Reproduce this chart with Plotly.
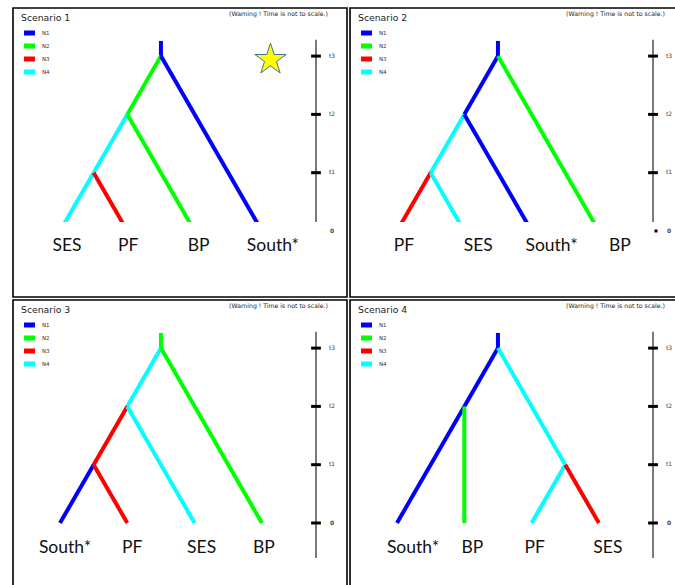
import plotly.graph_objects as go

W, H = 675, 585

# ---------------- data ----------------
POPULATIONS = ["N1", "N2", "N3", "N4"]
TIME_TICK_LABELS = ["0", "t1", "t2", "t3"]
TIME_TICK_VALUES = [0, 1, 2, 3]
ROOT_STEM_TOP = 3.26
TIME_AXIS_TOP = 3.28
TIME_AXIS_BOTTOM = -0.6

SCENARIO_TITLES = ["Scenario 1", "Scenario 2", "Scenario 3", "Scenario 4"]
WARNING_TEXT = "(Warning ! Time is not to scale.)"
BEST_SCENARIO = 1

# leaves (left to right, slot index = position)
S1_LEAVES = ["SES", "PF", "BP", "South*"]
S2_LEAVES = ["PF", "SES", "South*", "BP"]
S3_LEAVES = ["South*", "PF", "SES", "BP"]
S4_LEAVES = ["South*", "BP", "PF", "SES"]

# internal nodes: x in leaf-slot units, time level
S1_NODE_NAMES = ["root", "n2", "n1"]
S1_NODE_X = [1.5, 1.0, 0.5]
S1_NODE_T = [3, 2, 1]
S2_NODE_NAMES = ["root", "n2", "n1"]
S2_NODE_X = [1.5, 1.0, 0.5]
S2_NODE_T = [3, 2, 1]
S3_NODE_NAMES = ["root", "n2", "n1"]
S3_NODE_X = [1.5, 1.0, 0.5]
S3_NODE_T = [3, 2, 1]
S4_NODE_NAMES = ["root", "n2", "n1"]
S4_NODE_X = [1.5, 1.0, 2.5]
S4_NODE_T = [3, 2, 1]

# branches: from, to, population
S1_FROM = ["root", "root", "n2", "n2", "n1", "n1"]
S1_TO = ["n2", "South*", "n1", "BP", "SES", "PF"]
S1_POP = ["N2", "N1", "N4", "N2", "N4", "N3"]
S1_STEM = "N1"

S2_FROM = ["root", "root", "n2", "n2", "n1", "n1"]
S2_TO = ["n2", "BP", "n1", "South*", "PF", "SES"]
S2_POP = ["N1", "N2", "N4", "N1", "N3", "N4"]
S2_STEM = "N1"

S3_FROM = ["root", "root", "n2", "n2", "n1", "n1"]
S3_TO = ["n2", "BP", "n1", "SES", "South*", "PF"]
S3_POP = ["N4", "N2", "N3", "N4", "N1", "N3"]
S3_STEM = "N2"

S4_FROM = ["root", "root", "n2", "n2", "n1", "n1"]
S4_TO = ["n2", "n1", "South*", "BP", "PF", "SES"]
S4_POP = ["N1", "N4", "N1", "N2", "N4", "N3"]
S4_STEM = "N1"

SCENARIOS = [
    (S1_LEAVES, S1_NODE_NAMES, S1_NODE_X, S1_NODE_T, S1_FROM, S1_TO, S1_POP, S1_STEM),
    (S2_LEAVES, S2_NODE_NAMES, S2_NODE_X, S2_NODE_T, S2_FROM, S2_TO, S2_POP, S2_STEM),
    (S3_LEAVES, S3_NODE_NAMES, S3_NODE_X, S3_NODE_T, S3_FROM, S3_TO, S3_POP, S3_STEM),
    (S4_LEAVES, S4_NODE_NAMES, S4_NODE_X, S4_NODE_T, S4_FROM, S4_TO, S4_POP, S4_STEM),
]

# ---------------- styles / layout ----------------
POP_COLORS = {"N1": "#0000FF", "N2": "#00FF00", "N3": "#FF0000", "N4": "#00FFFF"}
PX_PER_SLOT = 67.3
PX_PER_TIME = 58.3
AXIS_OFFSET_PX = 256  # time-scale line position from first leaf

PANELS = [
    dict(box=(13, 8, 347, 297), clip_bottom=222, leaf0=60, time0=231, label_py=247,
         nudges=[7, 1, 4, 11]),
    dict(box=(350, 8, 700, 297), clip_bottom=222, leaf0=397, time0=231, label_py=247,
         nudges=[7, 14, 20, 21]),
    dict(box=(13, 300, 347, 620), clip_bottom=585, leaf0=60, time0=523, label_py=549,
         nudges=[5, 5, 7, 2]),
    dict(box=(350, 300, 700, 620), clip_bottom=585, leaf0=397, time0=523, label_py=549,
         nudges=[16, 8, 3, 9]),
]

fig = go.Figure()
shapes = []
annotations = []


def fx(px):
    return px / W


def fy(py):
    return 1 - py / H


def trace(**kw):
    kw.setdefault("showlegend", False)
    kw.setdefault("hoverinfo", "skip")
    fig.add_trace(go.Scatter(**kw))


for i, (panel, sc) in enumerate(zip(PANELS, SCENARIOS)):
    leaves, nnames, nx, nt, bfrom, bto, bpop, stem = sc
    l, t, r, b = panel["box"]
    rr = min(r, W)
    bb = min(b, H)
    bottom = min(panel["clip_bottom"], H)
    n = i + 1
    xa, ya, yf = f"x{n}", f"y{n}", f"y{n + 4}"
    leaf0, time0 = panel["leaf0"], panel["time0"]
    fig.layout[f"xaxis{n}"] = dict(
        domain=[fx(l), fx(rr)],
        range=[(l - leaf0) / PX_PER_SLOT, (rr - leaf0) / PX_PER_SLOT],
        visible=False, fixedrange=True, anchor=ya,
    )
    # clipped axis (tree + time scale)
    fig.layout[f"yaxis{n}"] = dict(
        domain=[fy(bottom), fy(t)],
        range=[(time0 - bottom) / PX_PER_TIME, (time0 - t) / PX_PER_TIME],
        visible=False, fixedrange=True, anchor=xa,
    )
    # full-panel axis (labels)
    fig.layout[f"yaxis{n + 4}"] = dict(
        domain=[fy(bb), fy(t)],
        range=[(time0 - bb) / PX_PER_TIME, (time0 - t) / PX_PER_TIME],
        visible=False, fixedrange=True, anchor=xa,
    )

    pos = {name: (k, 0) for k, name in enumerate(leaves)}
    for name, x, tt in zip(nnames, nx, nt):
        pos[name] = (x, tt)

    # stem above root
    rx, rt = pos["root"]
    trace(x=[rx, rx], y=[rt, ROOT_STEM_TOP], mode="lines",
          line=dict(color=POP_COLORS[stem], width=4), xaxis=xa, yaxis=ya)
    for f, to, p in zip(bfrom, bto, bpop):
        x1, y1 = pos[f]
        x2, y2 = pos[to]
        trace(x=[x1, x2], y=[y1, y2], mode="lines",
              line=dict(color=POP_COLORS[p], width=4), xaxis=xa, yaxis=ya)

    # leaf labels
    label_y = (time0 - panel["label_py"]) / PX_PER_TIME
    trace(x=[k + d / PX_PER_SLOT for k, d in zip(range(len(leaves)), panel["nudges"])],
          y=[label_y] * len(leaves), mode="text", text=leaves,
          textposition="middle center",
          textfont=dict(family="Lato", size=17.5, color="#111111"),
          cliponaxis=False, xaxis=xa, yaxis=yf)

    # time scale
    axis_x = AXIS_OFFSET_PX / PX_PER_SLOT
    trace(x=[axis_x, axis_x], y=[TIME_AXIS_TOP, TIME_AXIS_BOTTOM],
          mode="lines", line=dict(color="#333333", width=1.3), xaxis=xa, yaxis=ya)
    trace(x=[axis_x] * len(TIME_TICK_VALUES), y=TIME_TICK_VALUES, mode="markers",
          marker=dict(symbol="line-ew", size=7, line=dict(width=3, color="#000000")),
          xaxis=xa, yaxis=ya)
    tick_text = [f"<b>{s}</b>" if s == "0" else s for s in TIME_TICK_LABELS]
    trace(x=[axis_x + 16 / PX_PER_SLOT] * len(TIME_TICK_VALUES),
          y=TIME_TICK_VALUES, mode="text", text=tick_text,
          textposition="middle center",
          textfont=dict(family="DejaVu Sans", size=6, color="#444444"),
          cliponaxis=False, xaxis=xa, yaxis=yf)
    if n == 2:
        trace(x=[axis_x + 3 / PX_PER_SLOT], y=[0], mode="markers",
              marker=dict(symbol="square", size=3, color="#000000"),
              cliponaxis=False, xaxis=xa, yaxis=yf)

    # best scenario star
    if n == BEST_SCENARIO:
        trace(x=[(270.5 - leaf0) / PX_PER_SLOT],
              y=[(time0 - (t + 51.6)) / PX_PER_TIME],
              mode="markers",
              marker=dict(symbol="star", size=23.5, color="#FFFF00",
                          line=dict(color="#41719C", width=1)),
              xaxis=xa, yaxis=yf)

    # border
    shapes.append(dict(type="rect", xref="paper", yref="paper",
                       x0=fx(l), x1=fx(r), y0=fy(b), y1=fy(t),
                       line=dict(color="#000000", width=1.6), fillcolor="rgba(0,0,0,0)"))
    # title + warning
    annotations.append(dict(xref="paper", yref="paper", x=fx(l + 6), y=fy(t + 9),
                            xanchor="left", yanchor="middle", showarrow=False,
                            text=SCENARIO_TITLES[i],
                            font=dict(family="DejaVu Sans", size=9.3, color="#222222")))
    annotations.append(dict(xref="paper", yref="paper", x=fx(l + 317), y=fy(t + 6),
                            xanchor="right", yanchor="middle", showarrow=False,
                            text=WARNING_TEXT,
                            font=dict(family="DejaVu Sans", size=6.2, color="#222222")))
    # legend
    for k, p in enumerate(POPULATIONS):
        yy = t + 25 + 13 * k
        shapes.append(dict(type="line", xref="paper", yref="paper",
                           x0=fx(l + 11), x1=fx(l + 22), y0=fy(yy), y1=fy(yy),
                           line=dict(color=POP_COLORS[p], width=5)))
        annotations.append(dict(xref="paper", yref="paper", x=fx(l + 27), y=fy(yy),
                                xanchor="left", yanchor="middle", showarrow=False,
                                text=p,
                                font=dict(family="DejaVu Sans", size=5.5, color="#3a3030")))

fig.update_layout(
    width=W, height=H,
    margin=dict(l=0, r=0, t=0, b=0),
    paper_bgcolor="white", plot_bgcolor="rgba(0,0,0,0)",
    shapes=shapes, annotations=annotations,
    showlegend=False,
)

fig.write_html("out.html",
               config={"displayModeBar": False, "staticPlot": True},
               post_script="document.body.style.margin='0px';"
                           "document.body.style.overflow='hidden';")
